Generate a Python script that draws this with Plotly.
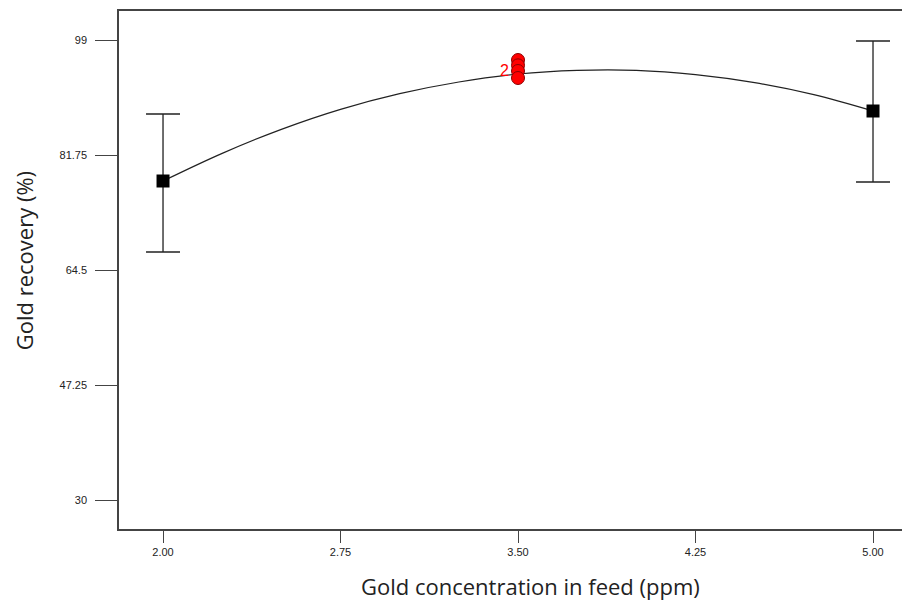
import plotly.graph_objects as go

# Design points (factorial levels) with error bars
x_pts = [2.00, 5.00]
y_pts = [77.85, 88.35]
err_plus = [10.05, 10.5]
err_minus = [10.65, 10.65]

# Center points (replicates)
x_center = [3.50, 3.50, 3.50, 3.50]
y_center = [96.0, 95.2, 94.35, 93.3]

# Model prediction curve
x_curve = [2.00, 2.25, 2.50, 2.75, 3.00, 3.25, 3.50, 3.75, 4.00, 4.25, 4.50, 4.75, 5.00]
y_curve = [77.85, 82.0, 85.6, 88.6, 90.95, 92.7, 93.9, 94.45, 94.45, 93.8, 92.6, 90.8, 88.35]

x_ticks = [2.00, 2.75, 3.50, 4.25, 5.00]
x_ticklabels = ["2.00", "2.75", "3.50", "4.25", "5.00"]
y_ticks = [30, 47.25, 64.5, 81.75, 99]
y_ticklabels = ["30", "47.25", "64.5", "81.75", "99"]

x_title = "Gold concentration in feed (ppm)"
y_title = "Gold recovery (%)"

title_font = dict(size=22, family="Open Sans, Liberation Sans", color="#222")

fig = go.Figure()
fig.add_trace(go.Scatter(x=x_curve, y=y_curve, mode="lines", line=dict(color="#222", width=1.2, shape="spline"),
                         hoverinfo="skip"))
fig.add_trace(go.Scatter(x=x_pts, y=y_pts, mode="markers",
                         marker=dict(symbol="square", color="black", size=13),
                         error_y=dict(type="data", symmetric=False, array=err_plus, arrayminus=err_minus,
                                      color="#222", thickness=1.3, width=17)))
fig.add_trace(go.Scatter(x=x_center, y=y_center, mode="markers",
                         marker=dict(symbol="circle", color="#ff0000", size=13,
                                     line=dict(color="#8b0000", width=1))))
fig.add_annotation(x=3.5, y=94.5, text="2", showarrow=False, xanchor="right", xshift=-7,
                   font=dict(color="#ff0000", size=16, family="Liberation Sans, Arial"))

# Axis titles as annotations (positioned like the reference)
fig.add_annotation(xref="paper", yref="paper", x=0.525, y=0, yanchor="middle", yshift=-57,
                   text=x_title, showarrow=False, font=title_font)
fig.add_annotation(xref="paper", yref="paper", x=-0.1213, y=0.517, xanchor="center", yanchor="middle",
                   textangle=-90, text=y_title, showarrow=False, font=title_font)

fig.update_layout(
    width=894, height=597,
    margin=dict(l=111, r=0, t=3, b=76, autoexpand=False),
    paper_bgcolor="white", plot_bgcolor="white",
    showlegend=False,
    font=dict(family="Liberation Sans, Arial", color="#222"),
)
fig.update_xaxes(range=[1.814, 5.1225], tickvals=x_ticks, ticktext=x_ticklabels,
                 showgrid=False, zeroline=False, showline=True, linecolor="#444", linewidth=1.5,
                 mirror=True, ticks="outside", ticklen=12, tickcolor="#444", tickwidth=1.3,
                 tickfont=dict(size=11, color="#222"))
fig.update_yaxes(range=[25.65, 103.35], tickvals=y_ticks, ticktext=y_ticklabels,
                 showgrid=False, zeroline=False, showline=True, linecolor="#444", linewidth=1.5,
                 ticks="outside", ticklen=22, tickcolor="#444", tickwidth=1.3,
                 tickfont=dict(size=11, color="#222"), ticklabelstandoff=6)

fig.write_html("out.html")
